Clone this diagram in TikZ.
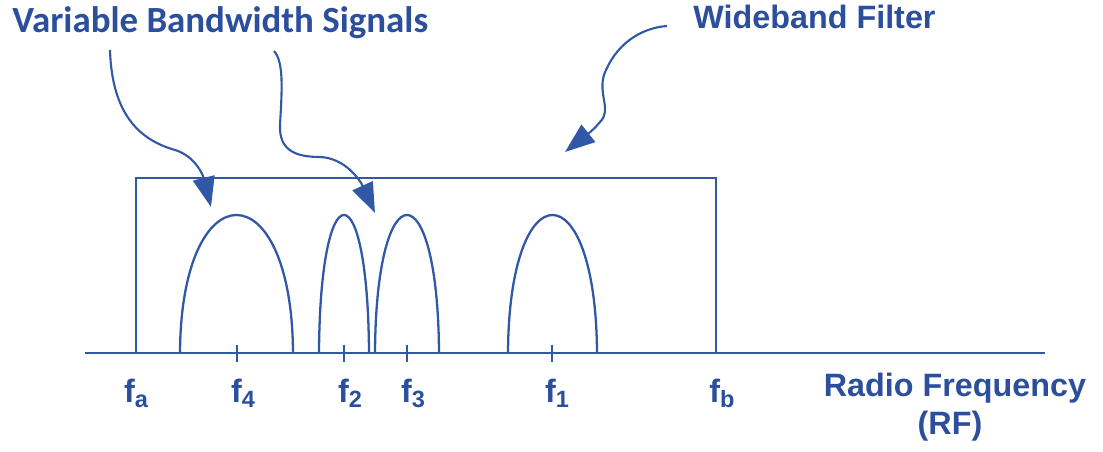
\documentclass[tikz,border=0pt]{standalone}
\usepackage{fontspec}
\setmainfont{Liberation Sans}
\newfontfamily\calibrifont{Carlito}
\usetikzlibrary{arrows.meta, positioning}
\definecolor{rfblue}{HTML}{3158A6}
\definecolor{labelblue}{HTML}{2B4F9C}
\newcommand{\freq}[1]{f\raisebox{-2.8pt}{\fontsize{13.4pt}{14pt}\selectfont #1}}

\begin{document}
\begin{tikzpicture}[x=0.02cm, y=-0.02cm,
  axisline/.style={draw=rfblue, line width=1.6pt},
  hump/.style={draw=rfblue, line width=1.3pt},
  pointer/.style={draw=rfblue, line width=1.2pt, -{Triangle[length=6mm, width=4.4mm]}},
  flabel/.style={text=labelblue, font=\fontsize{18.4pt}{22pt}\selectfont\bfseries,
                 inner sep=0pt, anchor=base}]
  \useasboundingbox (0,0) rectangle (1103,452);
  % Titles
  \node[flabel, anchor=base west, font=\fontsize{21pt}{24pt}\selectfont\calibrifont\bfseries]
        (vbs) at (12,33) {Variable Bandwidth Signals};
  \node[flabel, anchor=base west] (wbf) at (693,29) {Wideband Filter};
  \node[flabel] (rf) at (955,397) {Radio Frequency};
  \node[flabel] (rfabbr) at (950,435) {(RF)};
  % Axis and filter box
  \coordinate (axl) at (85,353);
  \coordinate (axr) at (1045,353);
  \coordinate (fa) at (136,353);
  \coordinate (fb) at (716,353);
  \draw[axisline] (axl) -- (axr);
  \draw[axisline] (fa) -- (136,178) -- (716,178) -- (fb);
  % Ticks
  \coordinate (f4) at (237,353);
  \coordinate (f2) at (344,353);
  \coordinate (f3) at (407,353);
  \coordinate (f1) at (552,353);
  \draw[axisline] ([yshift=0.16cm]f4) -- ([yshift=-0.18cm]f4);
  \draw[axisline] ([yshift=0.16cm]f2) -- ([yshift=-0.18cm]f2);
  \draw[axisline] ([yshift=0.16cm]f3) -- ([yshift=-0.18cm]f3);
  \draw[axisline] ([yshift=0.16cm]f1) -- ([yshift=-0.18cm]f1);
  % Signals
  \draw[hump] (180,353) .. controls (181,169) and (292,169) .. (293,353);
  \draw[hump] (319,353) .. controls (320,169) and (368,169) .. (369,353);
  \draw[hump] (375,353) .. controls (376,169) and (438,169) .. (439,353);
  \draw[hump] (508,353) .. controls (509,169) and (596,169) .. (597,353);
  % Frequency labels
  \node[flabel] (lfa) at (136,403) {\freq{a}};
  \node[flabel] (lf4) at (243,403) {\freq{4}};
  \node[flabel] (lf2) at (350,403) {\freq{2}};
  \node[flabel] (lf3) at (413,403) {\freq{3}};
  \node[flabel] (lf1) at (557,403) {\freq{1}};
  \node[flabel] (lfb) at (722,403) {\freq{b}};
  % Pointers
  \coordinate (vbs1) at (110,50);
  \coordinate (vbs2) at (274,51);
  \coordinate (wbf1) at (667,26);
  \coordinate (sig4) at (211,207);
  \coordinate (sig23) at (375,213);
  \coordinate (box) at (565,152);
  \draw[pointer] (vbs1) .. controls (112,115) and (140,140) .. (175,150)
        .. controls (195,156) and (203,175) .. (sig4);
  \draw[pointer] (vbs2) .. controls (284,62) and (282,90) .. (280,125)
        .. controls (279,150) and (295,157) .. (320,157)
        .. controls (345,158) and (360,180) .. (sig23);
  \draw[pointer] (wbf1) .. controls (640,28) and (615,45) .. (604,75)
        .. controls (598,95) and (612,110) .. (600,122)
        .. controls (592,132) and (580,140) .. (box);
\end{tikzpicture}
\end{document}
